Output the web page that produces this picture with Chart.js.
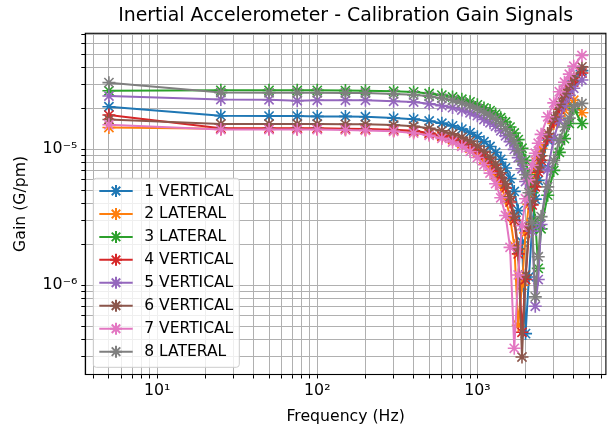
<!DOCTYPE html>
<html>
<head>
<meta charset="utf-8">
<script src="https://cdn.jsdelivr.net/npm/chart.js@4.4.1/dist/chart.umd.min.js"></script>
<style>
    html, body { margin: 0; padding: 0; background: #fff; }
    #wrap { width: 614px; height: 428px; }
</style>
</head>
<body>
<div id="wrap"><canvas id="gainChart" width="614" height="428"></canvas></div>
<script>
// =========================
// DADOS (ganho em unidades de 1e-5 G/pm)
// =========================
const GAIN_UNIT = 1e-5;

const freqs = [5, 25, 50, 75, 100, 150, 200, 300, 400, 500, 600, 700, 800, 900, 1000,
    1100, 1200, 1300, 1400, 1500, 1600, 1700, 1800, 1900, 2000, 2100, 2200, 2300, 2400,
    2500, 2750, 3000, 3250, 3500, 3750, 4000, 4500];

const seriesNames = ['1 VERTICAL', '2 LATERAL', '3 LATERAL', '4 VERTICAL',
    '5 VERTICAL', '6 VERTICAL', '7 VERTICAL', '8 LATERAL'];

const seriesColors = ['#1f77b4', '#ff7f0e', '#2ca02c', '#d62728',
    '#9467bd', '#8c564b', '#e377c2', '#7f7f7f'];

const gain1Vertical = [2.06, 1.77, 1.76, 1.76, 1.75, 1.75, 1.74, 1.70, 1.67, 1.62, 1.56, 1.49, 1.41, 1.33, 1.24,
    1.14, 1.05, 0.95, 0.845, 0.73, 0.61, 0.49, 0.354, 0.208, 0.044, 0.115, 0.27, 0.43, 0.59,
    0.756, 1.175, 1.6, 2.0, 2.4, 2.8, 3.2, 3.8];
const gain2Lateral = [1.45, 1.42, 1.42, 1.42, 1.42, 1.41, 1.40, 1.38, 1.35, 1.30, 1.24, 1.18, 1.10, 1.02, 0.936,
    0.843, 0.753, 0.654, 0.548, 0.433, 0.318, 0.195, 0.0507, 0.10, 0.243, 0.393, 0.545, 0.70, 0.86,
    1.02, 1.3, 1.55, 1.75, 1.95, 2.12, 2.3, 1.86];
const gain3Lateral = [2.70, 2.72, 2.72, 2.72, 2.72, 2.71, 2.70, 2.68, 2.65, 2.58, 2.51, 2.43, 2.34, 2.24, 2.13,
    2.02, 1.93, 1.82, 1.71, 1.59, 1.46, 1.32, 1.18, 1.02, 0.83, 0.65, 0.48, 0.30, 0.133,
    0.26, 0.46, 0.70, 0.95, 1.2, 1.55, 2.0, 1.55];
const gain4Vertical = [1.79, 1.43, 1.43, 1.43, 1.43, 1.42, 1.41, 1.395, 1.37, 1.32, 1.26, 1.20, 1.13, 1.06, 0.98,
    0.89, 0.81, 0.72, 0.62, 0.52, 0.41, 0.30, 0.17, 0.045, 0.11, 0.25, 0.39, 0.53, 0.68,
    0.83, 1.21, 1.6, 1.98, 2.37, 2.75, 3.13, 3.65];
const gain5Vertical = [2.47, 2.33, 2.32, 2.28, 2.30, 2.30, 2.30, 2.26, 2.23, 2.17, 2.10, 2.03, 1.95, 1.86, 1.77,
    1.66, 1.57, 1.48, 1.37, 1.26, 1.14, 1.0, 0.87, 0.72, 0.58, 0.42, 0.25, 0.070, 0.11,
    0.28, 0.71, 1.2, 1.65, 2.1, 2.5, 2.82, 3.24];
const gain6Vertical = [1.66, 1.54, 1.54, 1.54, 1.54, 1.53, 1.53, 1.51, 1.48, 1.43, 1.37, 1.30, 1.23, 1.15, 1.06,
    0.967, 0.877, 0.779, 0.673, 0.56, 0.448, 0.322, 0.185, 0.0296, 0.119, 0.269, 0.422, 0.578, 0.737,
    0.898, 1.31, 1.73, 2.15, 2.57, 2.99, 3.4, 4.05];
const gain7Vertical = [1.52, 1.40, 1.40, 1.40, 1.40, 1.39, 1.38, 1.36, 1.32, 1.27, 1.205, 1.134, 1.054, 0.966, 0.871,
    0.77, 0.669, 0.559, 0.44, 0.326, 0.19, 0.0343, 0.119, 0.274, 0.433, 0.598, 0.765, 0.936, 1.11,
    1.29, 1.74, 2.2, 2.66, 3.125, 3.58, 4.1, 4.92];
const gain8Lateral = [3.10, 2.62, 2.61, 2.61, 2.61, 2.60, 2.60, 2.56, 2.52, 2.46, 2.38, 2.30, 2.20, 2.10, 2.0,
    1.88, 1.78, 1.67, 1.55, 1.42, 1.28, 1.14, 0.98, 0.82, 0.65, 0.48, 0.29, 0.082, 0.162,
    0.32, 0.53, 0.83, 1.17, 1.46, 1.7, 2.08, 2.18];

const allGains = [gain1Vertical, gain2Lateral, gain3Lateral, gain4Vertical,
    gain5Vertical, gain6Vertical, gain7Vertical, gain8Lateral];

// eixos
const xLimits = [3.56, 6350];
const yLimits = [2.2e-7, 7.16e-5];
const xMajorTicks = [10, 100, 1000];
const xMajorLabels = ['10¹', '10²', '10³'];
const xMinorTicks = [4, 5, 6, 7, 8, 9, 20, 30, 40, 50, 60, 70, 80, 90,
    200, 300, 400, 500, 600, 700, 800, 900, 2000, 3000, 4000, 5000, 6000];
const yMajorTicks = [1e-6, 1e-5];
const yMajorLabels = ['10⁻⁶', '10⁻⁵'];
const yMinorTicks = [3e-7, 4e-7, 5e-7, 6e-7, 7e-7, 8e-7, 9e-7,
    2e-6, 3e-6, 4e-6, 5e-6, 6e-6, 7e-6, 8e-6, 9e-6,
    2e-5, 3e-5, 4e-5, 5e-5, 6e-5, 7e-5];

const FONT = "'DejaVu Sans', sans-serif";

// =========================
// PLUGINS (moldura e legenda)
// =========================
const axesFrame = {
    id: 'axesFrame',
    afterDatasetsDraw(chart) {
        const { ctx, chartArea: a } = chart;
        ctx.save();
        ctx.strokeStyle = '#000';
        ctx.lineWidth = 1.1;
        ctx.strokeRect(a.left, a.top, a.right - a.left, a.bottom - a.top);
        ctx.restore();
    }
};

const legendBox = {
    id: 'legendBox',
    afterDraw(chart) {
        const { ctx, chartArea: a } = chart;
        const x0 = a.left + 8, w = 146;
        const y1 = a.bottom - 7.2, h = 189;
        const y0 = y1 - h;
        const rowH = 22.95;
        ctx.save();
        ctx.beginPath();
        ctx.roundRect(x0, y0, w, h, 3);
        ctx.fillStyle = 'rgba(255,255,255,0.8)';
        ctx.fill();
        ctx.strokeStyle = '#cccccc';
        ctx.lineWidth = 1;
        ctx.stroke();

        chart.data.datasets.forEach((ds, i) => {
            const cy = y0 + 12.7 + i * rowH;
            ctx.strokeStyle = ds.borderColor;
            ctx.lineWidth = 2;
            ctx.beginPath();
            ctx.moveTo(x0 + 6, cy);
            ctx.lineTo(x0 + 39.4, cy);
            ctx.stroke();
            ctx.fillStyle = ds.borderColor;
            Chart.helpers.drawPoint(ctx, {
                pointStyle: 'star', radius: 6, borderWidth: 1.6, rotation: 0
            }, x0 + 22.7, cy);
            ctx.fillStyle = '#000';
            ctx.font = `15.5px ${FONT}`;
            ctx.textBaseline = 'middle';
            ctx.textAlign = 'left';
            ctx.fillText(ds.label, x0 + 51, cy + 0.5);
        });
        ctx.restore();
    }
};

// =========================
// GRÁFICO
// =========================
const datasets = allGains.map((vals, i) => ({
    label: seriesNames[i],
    data: freqs.map((f, k) => ({ x: f, y: vals[k] * GAIN_UNIT })),
    borderColor: seriesColors[i],
    backgroundColor: seriesColors[i],
    borderWidth: 2,
    pointStyle: 'star',
    pointRadius: 6.5,
    pointBorderWidth: 1.6,
    pointHoverRadius: 6.5,
    tension: 0,
    order: allGains.length - i
}));

const gridOpts = {
    color: '#b0b0b0',
    lineWidth: 1,
    drawTicks: true,
    tickLength: 4,
    tickColor: '#000',
    tickWidth: 1
};

function makeTicks(major, minor) {
    return major.map(v => ({ value: v, major: true }))
        .concat(minor.map(v => ({ value: v, major: false })))
        .sort((p, q) => p.value - q.value);
}

new Chart(document.getElementById('gainChart').getContext('2d'), {
    type: 'line',
    data: { datasets },
    options: {
        responsive: false,
        animation: false,
        devicePixelRatio: 1,
        layout: { padding: { top: 5, right: 2.5, bottom: 0, left: 0 } },
        plugins: {
            legend: { display: false },
            tooltip: { enabled: false },
            title: {
                display: true,
                text: 'Inertial Accelerometer - Calibration Gain Signals',
                fullSize: false,
                color: '#000',
                font: { family: FONT, size: 18.9, weight: 'normal', lineHeight: 1.2 },
                padding: { top: 0, bottom: 5.6 }
            }
        },
        scales: {
            x: {
                type: 'logarithmic',
                position: 'bottom',
                min: xLimits[0],
                max: xLimits[1],
                afterBuildTicks: (scale) => { scale.ticks = makeTicks(xMajorTicks, xMinorTicks); },
                afterFit: (scale) => { scale.height = 53.5; },
                grid: gridOpts,
                border: { display: true, color: '#000', width: 1.1 },
                ticks: {
                    autoSkip: false,
                    maxRotation: 0,
                    color: '#000',
                    padding: 3,
                    font: { family: FONT, size: 15.8 },
                    callback: (v) => {
                        const k = xMajorTicks.indexOf(v);
                        return k >= 0 ? xMajorLabels[k] : '';
                    }
                },
                title: {
                    display: true,
                    text: 'Frequency (Hz)',
                    color: '#000',
                    font: { family: FONT, size: 15.7 },
                    padding: { top: 2, bottom: 1.5 }
                }
            },
            y: {
                type: 'logarithmic',
                position: 'left',
                min: yLimits[0],
                max: yLimits[1],
                afterBuildTicks: (scale) => { scale.ticks = makeTicks(yMajorTicks, yMinorTicks); },
                afterFit: (scale) => { scale.width = 85.3; },
                grid: gridOpts,
                border: { display: true, color: '#000', width: 1.1 },
                ticks: {
                    autoSkip: false,
                    color: '#000',
                    padding: 4,
                    font: { family: FONT, size: 15.8 },
                    callback: (v) => {
                        const k = yMajorTicks.indexOf(v);
                        return k >= 0 ? yMajorLabels[k] : '';
                    }
                },
                title: {
                    display: true,
                    text: 'Gain (G/pm)',
                    color: '#000',
                    font: { family: FONT, size: 15.7 },
                    padding: { top: 12, bottom: 4 }
                }
            }
        }
    },
    plugins: [axesFrame, legendBox]
});
</script>
</body>
</html>
